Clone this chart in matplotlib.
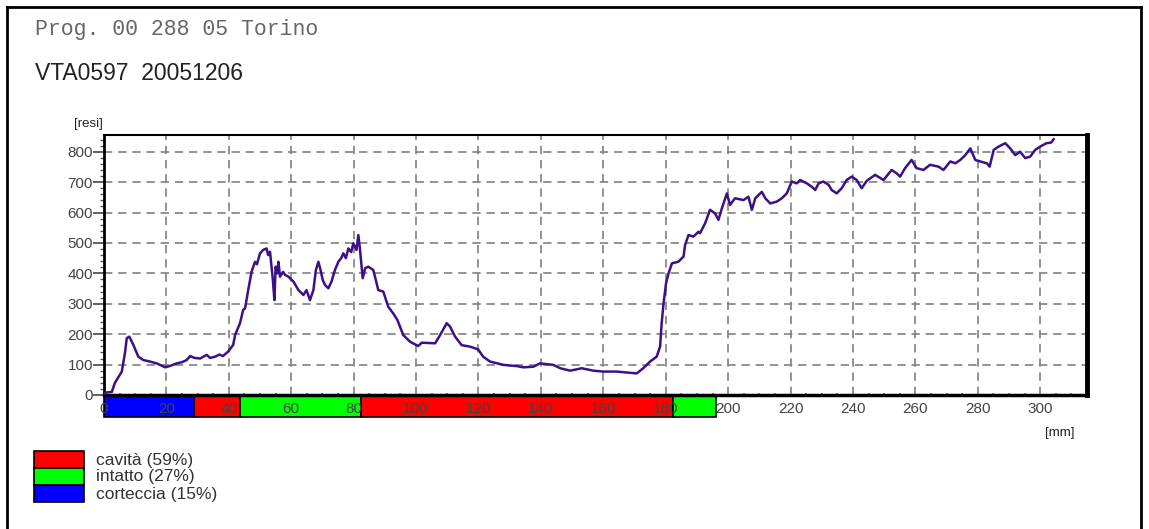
import numpy as np
import matplotlib
matplotlib.use("Agg")
import matplotlib.pyplot as plt
from matplotlib.patches import Rectangle
from matplotlib.ticker import MultipleLocator

# resistograph profile
depth_mm = [0, 0.5, 2.5, 3.5, 5.7, 6.7, 7.3, 8.1, 9.4, 11, 12.6, 14.7, 16.9, 19.6, 21,
            23.3, 25, 26.5, 27.6, 29, 30.8, 32.9, 34, 35.6, 37, 38.1, 39.8, 41.4, 42,
            43.6, 44.6, 45.2, 46.3, 47.3, 48.4, 49, 50, 51, 52.1, 52.6, 53.2, 53.7, 54.1,
            54.6, 55, 55.5, 55.9, 56.4, 57.4, 58, 59.1, 60.7, 62.3, 63.9, 64.9, 66, 67.1,
            67.9, 68.7, 69.4, 70.1, 70.8, 71.9, 72.9, 74, 75.1, 76, 76.7, 77.5, 78.3, 79.2,
            79.9, 80.9, 81.5, 82, 82.9, 83.7, 84.7, 86.3, 87.9, 89.5, 91.1, 92.7, 94, 95.9,
            98.1, 100.7, 101.8, 106.1, 107.7, 109.8, 110.9, 112.5, 114.6, 117.3, 119.9,
            121.5, 123.7, 128, 132.3, 134.4, 137.6, 139.7, 144, 146.2, 149.4, 153.1, 156.8,
            160, 164.3, 170.7, 172.8, 175, 177.1, 178.2, 178.7, 179.3, 180.1, 180.9, 182,
            184, 185.7, 186.2, 187.3, 188.9, 190.5, 191, 192.6, 194.2, 195.8, 196.9, 198,
            199.6, 200.6, 202.2, 204.9, 206.5, 207.6, 208.7, 210.8, 211.9, 213.5, 215.6,
            217.2, 218.8, 220.4, 222, 223.1, 225.2, 226.8, 227.9, 229, 230.5, 232.2, 233.2,
            234.8, 236.4, 238, 239.6, 241.2, 242.8, 244.4, 247.1, 249.8, 252.4, 254, 255.1,
            256.7, 258.8, 260.4, 262.6, 264.7, 267.4, 269, 271.2, 272.8, 274.4, 276, 277.6,
            279.2, 280.8, 282.9, 283.8, 285.1, 286.7, 288.8, 290.4, 292, 293.6, 295.2,
            296.8, 298.4, 300, 302, 303.5, 304.3]
resi = [0, 8, 10, 40, 77, 137, 187, 192, 165, 126, 115, 110, 104, 91, 95,
        104, 108, 115, 128, 122, 120, 132, 122, 126, 133, 128, 143, 165, 197,
        237, 280, 285, 350, 406, 438, 430, 466, 477, 482, 460, 471, 422, 380,
        312, 422, 400, 438, 389, 405, 395, 389, 373, 345, 329, 345, 312, 345,
        411, 438, 411, 378, 362, 351, 373, 411, 438, 450, 466, 450, 482, 470,
        499, 477, 526, 482, 384, 417, 422, 411, 345, 340, 290, 268, 247, 197,
        175, 161, 172, 170, 197, 236, 225, 192, 164, 159, 150,
        126, 110, 99, 95, 91, 93, 104, 99, 88, 80, 88, 80,
        77, 77, 71, 88, 110, 126, 159, 236, 301, 367, 400, 433,
        438, 455, 493, 526, 521, 537, 532, 564, 609, 597, 576, 614,
        663, 625, 647, 641, 652, 609, 647, 668, 647, 630, 636,
        647, 663, 702, 696, 707, 696, 685, 674, 696, 702, 691, 674,
        663, 680, 707, 718, 707, 680, 704, 724, 707, 740, 729, 718,
        746, 773, 746, 740, 757, 751, 740, 768, 762, 773, 789, 811,
        773, 768, 762, 751, 806, 817, 828, 811, 789, 800, 779,
        784, 806, 817, 828, 830, 841]

# zone bar under the axis
zone_start = [0, 28.8, 43.6, 82.4, 182.4]
zone_end = [28.8, 43.6, 82.4, 182.4, 196]
zone_kind = ["corteccia", "cavità", "intatto", "cavità", "intatto"]
zone_colors = {"cavità": "#ff0000", "intatto": "#00ff00", "corteccia": "#0000ff"}
legend_labels = ["cavità (59%)", "intatto (27%)", "corteccia (15%)"]
legend_kinds = ["cavità", "intatto", "corteccia"]

W, H = 1149, 529
fig = plt.figure(figsize=(W / 100, H / 100), dpi=100)
ax = fig.add_axes([104 / W, (H - 395) / H, (1087 - 104) / W, (395 - 135) / H])

ax.plot(depth_mm, resi, color="#3c1188", lw=1.8, zorder=3)
ax.set_xlim(0, 315)
ax.set_ylim(0, 855)

ax.xaxis.set_major_locator(MultipleLocator(20))
ax.xaxis.set_minor_locator(MultipleLocator(5))
ax.yaxis.set_major_locator(MultipleLocator(100))
ax.yaxis.set_minor_locator(MultipleLocator(20))
ax.set_xticks(np.arange(0, 301, 20))
ax.grid(True, which="major", color="#808080", ls=(0, (5, 3.5)), lw=1.2)

ax.tick_params(axis="x", which="major", length=0, pad=5, labelsize=11, labelcolor="#444444")
ax.tick_params(axis="x", which="minor", length=3, direction="inout", color="#808080", width=1.5)
ax.tick_params(axis="y", which="major", length=8, direction="out", width=1.3, color="#555555",
               labelsize=11, labelcolor="#444444", pad=0)
ax.tick_params(axis="y", which="minor", length=3, direction="out", width=1.0, color="#555555")
for lab in ax.get_xticklabels() + ax.get_yticklabels():
    lab.set_family("Liberation Sans")

ax.spines["top"].set_linewidth(1.5)
ax.spines["left"].set_linewidth(2)
ax.spines["right"].set_linewidth(3.5)
ax.spines["bottom"].set_linewidth(2.5)

trans = ax.get_xaxis_transform()
bar_h = 22 / 260
for x0, x1, kind in zip(zone_start, zone_end, zone_kind):
    ax.add_patch(Rectangle((x0, -bar_h), x1 - x0, bar_h, transform=trans,
                           facecolor=zone_colors[kind], edgecolor="black", lw=1.2,
                           clip_on=False, zorder=1))

fig.text(88 / W, 1 - 124 / H, "[resi]", fontsize=9.5, family="Liberation Sans",
         ha="center", va="center", color="#222222")
fig.text(1060 / W, 1 - 433 / H, "[mm]", fontsize=9.5, family="Liberation Sans",
         ha="center", va="center", color="#222222")

fig.text(35 / W, 1 - 30 / H, "Prog. 00 288 05 Torino", fontsize=15.5,
         family="Liberation Mono", color="#666666", va="center", ha="left")
fig.text(35 / W, 1 - 74 / H, "VTA0597  20051206", fontsize=16.5,
         family="Liberation Sans", color="#222222", va="center", ha="left")

# legend boxes
for i, (kind, lab) in enumerate(zip(legend_kinds, legend_labels)):
    top = 451 + i * 17
    fig.patches.append(Rectangle((34 / W, 1 - (top + 17) / H), 50 / W, 17 / H,
                                 transform=fig.transFigure, facecolor=zone_colors[kind],
                                 edgecolor="black", lw=1.2))
    fig.text(96 / W, 1 - (top + 9) / H, lab, fontsize=12.5, family="Liberation Sans",
             color="#333333", va="center", ha="left")

# outer page frame
fig.add_artist(plt.Line2D([7 / W, 7 / W], [0, 1 - 7 / H], color="black", lw=2))
fig.add_artist(plt.Line2D([7 / W, 1141 / W], [1 - 7 / H, 1 - 7 / H], color="black", lw=2))
fig.add_artist(plt.Line2D([1141 / W, 1141 / W], [0, 1 - 7 / H], color="black", lw=2))

fig.savefig("out.png", dpi=100)
